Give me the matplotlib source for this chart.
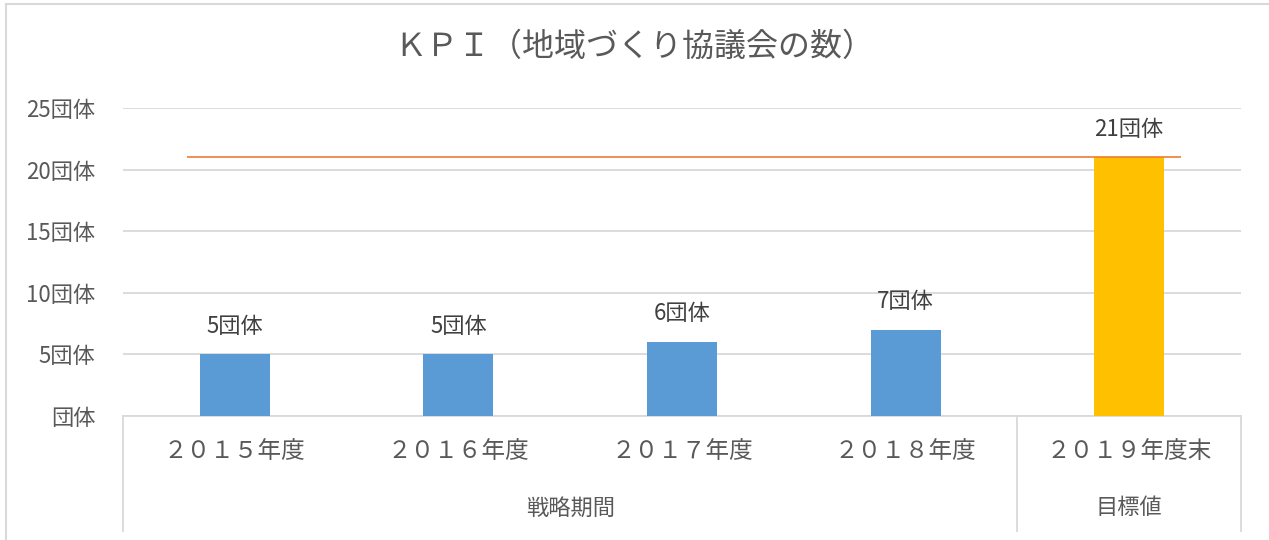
import matplotlib.pyplot as plt
from matplotlib.lines import Line2D

plt.rcParams['font.family'] = ['Noto Sans CJK JP', 'DejaVu Sans']

# data
categories = ['２０１５年度', '２０１６年度', '２０１７年度', '２０１８年度', '２０１９年度末']
values = [5, 5, 6, 7, 21]
bar_colors = ['#5B9BD5', '#5B9BD5', '#5B9BD5', '#5B9BD5', '#FFC000']
groups = ['戦略期間', '目標値']
group_sizes = [4, 1]
target = 21
yticks = [0, 5, 10, 15, 20, 25]
title = 'ＫＰＩ（地域づくり協議会の数）'

W, H = 1269, 540
fig = plt.figure(figsize=(W / 100, H / 100), dpi=100)

# axes placed in pixel terms
x0, x1, y_top, y_bot = 123, 1241, 108, 416
ax = fig.add_axes([x0 / W, (H - y_bot) / H, (x1 - x0) / W, (y_bot - y_top) / H])

xs = list(range(len(categories)))
ax.bar(xs, values, width=0.313, color=bar_colors, zorder=3)
ax.hlines(target, -0.215, len(categories) - 1 + 0.23, color='#ED7D31', lw=1.2, zorder=4)

for x, v in zip(xs, values):
    ax.annotate(f'{v}団体', (x, v), xytext=(0, 12), textcoords='offset points',
                ha='center', va='bottom', fontsize=16, color='#404040', zorder=5)

ax.set_xlim(-0.5, len(categories) - 0.5)
ax.set_ylim(0, 25)
ax.set_yticks(yticks)
ax.set_yticklabels([f'{t}団体' if t else '団体' for t in yticks], fontsize=16, color='#595959')
ax.tick_params(axis='y', length=0, pad=20)
ax.set_xticks([])
ax.grid(axis='y', color='#D9D9D9', lw=1.3, zorder=0)
for s in ['top', 'right', 'left']:
    ax.spines[s].set_visible(False)
ax.spines['bottom'].set_color('#D9D9D9')
ax.spines['bottom'].set_linewidth(1.3)

# category labels and group labels below the axis
trans = ax.get_xaxis_transform()
cat_y = -(452 - y_bot) / (y_bot - y_top)
grp_y = -(508 - y_bot) / (y_bot - y_top)
sep_bottom = -(531 - y_bot) / (y_bot - y_top)
for x, c in zip(xs, categories):
    ax.text(x, cat_y, c, transform=trans, ha='center', va='center',
            fontsize=17, color='#595959')

start = 0
bounds = [-0.5]
for g, n in zip(groups, group_sizes):
    mid = start + (n - 1) / 2
    ax.text(mid, grp_y, g, transform=trans, ha='center', va='center',
            fontsize=16, color='#595959')
    start += n
    bounds.append(start - 0.5)
for b in bounds:
    ax.add_line(Line2D([b, b], [0, sep_bottom], transform=trans, color='#D9D9D9',
                       lw=1.3, clip_on=False))

fig.text(0.5, (H - 47) / H, title, ha='center', va='center', fontsize=23,
         color='#595959')

# chart frame (top and left edges visible)
fig.add_artist(Line2D([6 / W, 1], [(H - 4) / H, (H - 4) / H], color='#D9D9D9', lw=1.5))
fig.add_artist(Line2D([6 / W, 6 / W], [0, (H - 4) / H], color='#D9D9D9', lw=1.5))

fig.savefig('out.png', dpi=100)
